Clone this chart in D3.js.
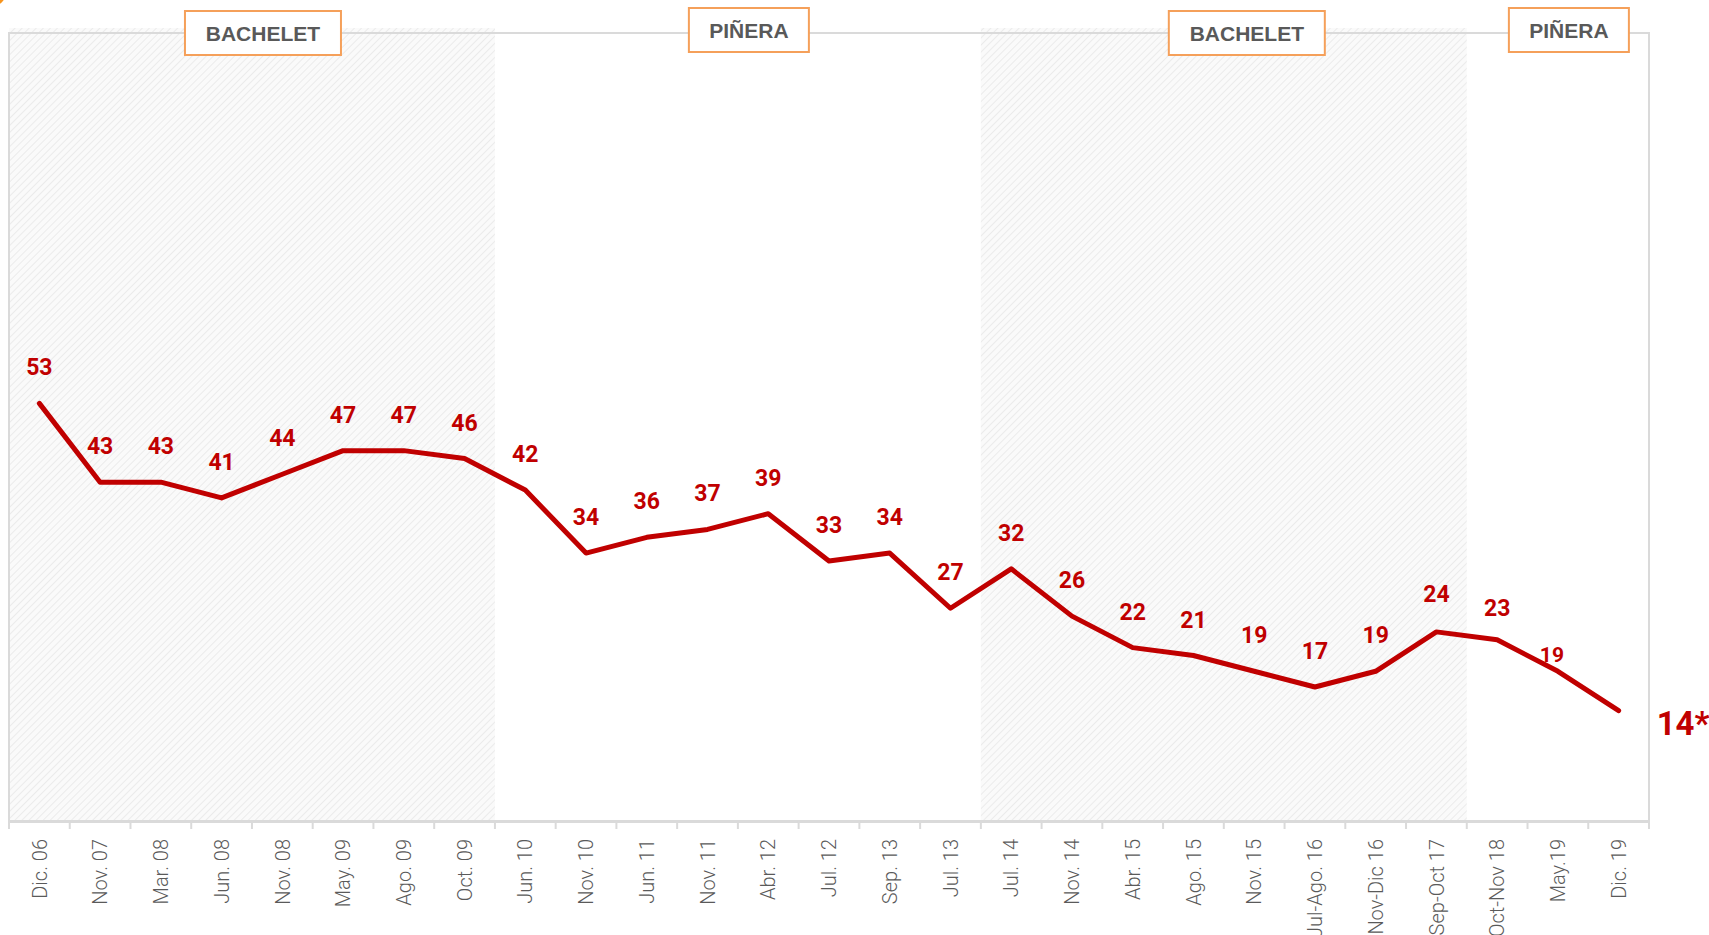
<!DOCTYPE html>
<html>
<head>
<meta charset="utf-8">
<script src="https://cdn.jsdelivr.net/npm/d3@7"></script>
<style>
  body { margin: 0; background: #fff; }
  svg { display: block; }
  .tick-label { font-family: Roboto, sans-serif; font-weight: 300; font-size: 20px; fill: #5a5a5a; }
  .value-label { font-family: Roboto, sans-serif; font-weight: 700; font-size: 23px; fill: #c00000; }
  .gov-label { font-family: 'Liberation Sans', Arial, sans-serif; font-weight: 700; font-size: 21px; fill: #595959; }
</style>
</head>
<body>
<svg class="chart" width="1709" height="935"></svg>
<script>
let categories = [
  'Dic. 06', 'Nov. 07', 'Mar. 08', 'Jun. 08', 'Nov. 08', 'May. 09', 'Ago. 09', 'Oct. 09',
  'Jun. 10', 'Nov. 10', 'Jun. 11', 'Nov. 11', 'Abr. 12', 'Jul. 12', 'Sep. 13', 'Jul. 13',
  'Jul. 14', 'Nov. 14', 'Abr. 15', 'Ago. 15', 'Nov. 15', 'Jul-Ago. 16', 'Nov-Dic 16',
  'Sep-Oct 17', 'Oct-Nov 18', 'May.19', 'Dic. 19'
]

let values = [
  53, 43, 43, 41, 44, 47, 47, 46,
  42, 34, 36, 37, 39, 33, 34, 27,
  32, 26, 22, 21, 19, 17, 19, 24,
  23, 19, 14
]

let valueLabels = values.map((v, i) => i === values.length - 1 ? v + '*' : String(v))

// government periods, by first and last category
let govNames = ['BACHELET', 'PIÑERA', 'BACHELET', 'PIÑERA']
let govStart = ['Dic. 06', 'Jun. 10', 'Jul. 14', 'Oct-Nov 18']
let govEnd = ['Oct. 09', 'Jul. 13', 'Sep-Oct 17', 'Dic. 19']

let svg = d3.select('.chart')

let plotLeft = 9, plotRight = 1649, plotTop = 33, plotBottom = 821

let x = d3.scaleBand()
  .domain(categories)
  .range([plotLeft, plotRight])
  .padding(0)

let y = d3.scaleLinear()
  .domain([0, 100])
  .range([plotBottom, plotTop])

// hatch pattern
let defs = svg.append('defs')
let pattern = defs.append('pattern')
  .attr('id', 'hatch')
  .attr('patternUnits', 'userSpaceOnUse')
  .attr('width', 5)
  .attr('height', 5)
  .attr('patternTransform', 'rotate(45)')
pattern.append('rect')
  .attr('width', 5).attr('height', 5)
  .attr('fill', '#fafafa')
pattern.append('line')
  .attr('x1', 0).attr('y1', 0).attr('x2', 0).attr('y2', 5)
  .attr('stroke', '#ebebeb')
  .attr('stroke-width', 2)

let periods = govNames.map((name, i) => ({
  name: name,
  x0: x(govStart[i]),
  x1: x(govEnd[i]) + x.bandwidth(),
  hatched: i % 2 === 0
}))

// shaded periods
svg.selectAll('.period')
  .data(periods.filter(d => d.hatched))
  .enter()
  .append('rect')
  .classed('period', true)
  .attr('x', d => d.x0)
  .attr('y', plotTop - 5)
  .attr('width', d => d.x1 - d.x0)
  .attr('height', plotBottom - plotTop + 5)
  .attr('fill', 'url(#hatch)')

// frame
svg.append('path')
  .attr('d', `M${plotLeft},${plotBottom} V${plotTop} H${plotRight} V${plotBottom + 8}`)
  .attr('fill', 'none')
  .attr('stroke', '#dadada')
  .attr('stroke-width', 2)

// small orange corner mark
svg.append('circle')
  .attr('cx', -5).attr('cy', -5).attr('r', 10)
  .attr('fill', '#f7941d')

// x axis
let xAxis = svg.append('g')
  .attr('transform', `translate(0,${plotBottom})`)
  .call(d3.axisBottom(x).tickSize(0).tickPadding(0))
xAxis.select('.domain')
  .attr('stroke', '#dadada')
  .attr('stroke-width', 3)
xAxis.selectAll('.tick text')
  .attr('class', 'tick-label')
  .attr('transform', 'rotate(-90)')
  .attr('text-anchor', 'end')
  .attr('x', -18)
  .attr('y', 0)
  .attr('dy', '0.36em')

// boundary ticks
svg.selectAll('.boundary')
  .data(categories)
  .enter()
  .append('line')
  .classed('boundary', true)
  .attr('x1', d => x(d))
  .attr('x2', d => x(d))
  .attr('y1', plotBottom)
  .attr('y2', plotBottom + 8)
  .attr('stroke', '#dadada')
  .attr('stroke-width', 2)

// line
let line = d3.line()
  .x((d, i) => x(categories[i]) + x.bandwidth() / 2)
  .y(d => y(d))

svg.append('path')
  .datum(values)
  .attr('d', line)
  .attr('fill', 'none')
  .attr('stroke', '#c00000')
  .attr('stroke-width', 5)
  .attr('stroke-linejoin', 'round')
  .attr('stroke-linecap', 'round')

// value labels
let last = values.length - 1
svg.selectAll('.value-label')
  .data(values)
  .enter()
  .append('text')
  .classed('value-label', true)
  .text((d, i) => valueLabels[i])
  .attr('text-anchor', (d, i) => i === last ? 'start' : 'middle')
  .attr('x', (d, i) => {
    let cx = x(categories[i]) + x.bandwidth() / 2
    if (i === last) return cx + 38
    if (i === last - 1) return cx - 6
    return cx
  })
  .attr('y', (d, i) => {
    if (i === last) return y(d) + 24
    if (i === last - 1) return y(d) - 9
    if (i === last - 2) return y(d) - 24
    if (i === last - 3) return y(d) - 30
    return y(d) - 28
  })
  .style('font-size', (d, i) => i === last ? '33px' : i === last - 1 ? '21px' : null)

// government label boxes
let boxes = svg.selectAll('.gov')
  .data(periods)
  .enter()
  .append('g')
  .classed('gov', true)
  .attr('transform', (d, i) => `translate(${(d.x0 + d.x1) / 2 + (i === 2 ? 23 : 11)},${i % 2 === 0 ? 33 : 30})`)

boxes.append('rect')
  .attr('x', d => d.name === 'BACHELET' ? -78 : -60)
  .attr('y', -22)
  .attr('width', d => d.name === 'BACHELET' ? 156 : 120)
  .attr('height', 44)
  .attr('fill', '#fff')
  .attr('stroke', '#f5a05a')
  .attr('stroke-width', 2)

boxes.append('text')
  .classed('gov-label', true)
  .text(d => d.name)
  .attr('text-anchor', 'middle')
  .attr('dy', '0.36em')
</script>
</body>
</html>
